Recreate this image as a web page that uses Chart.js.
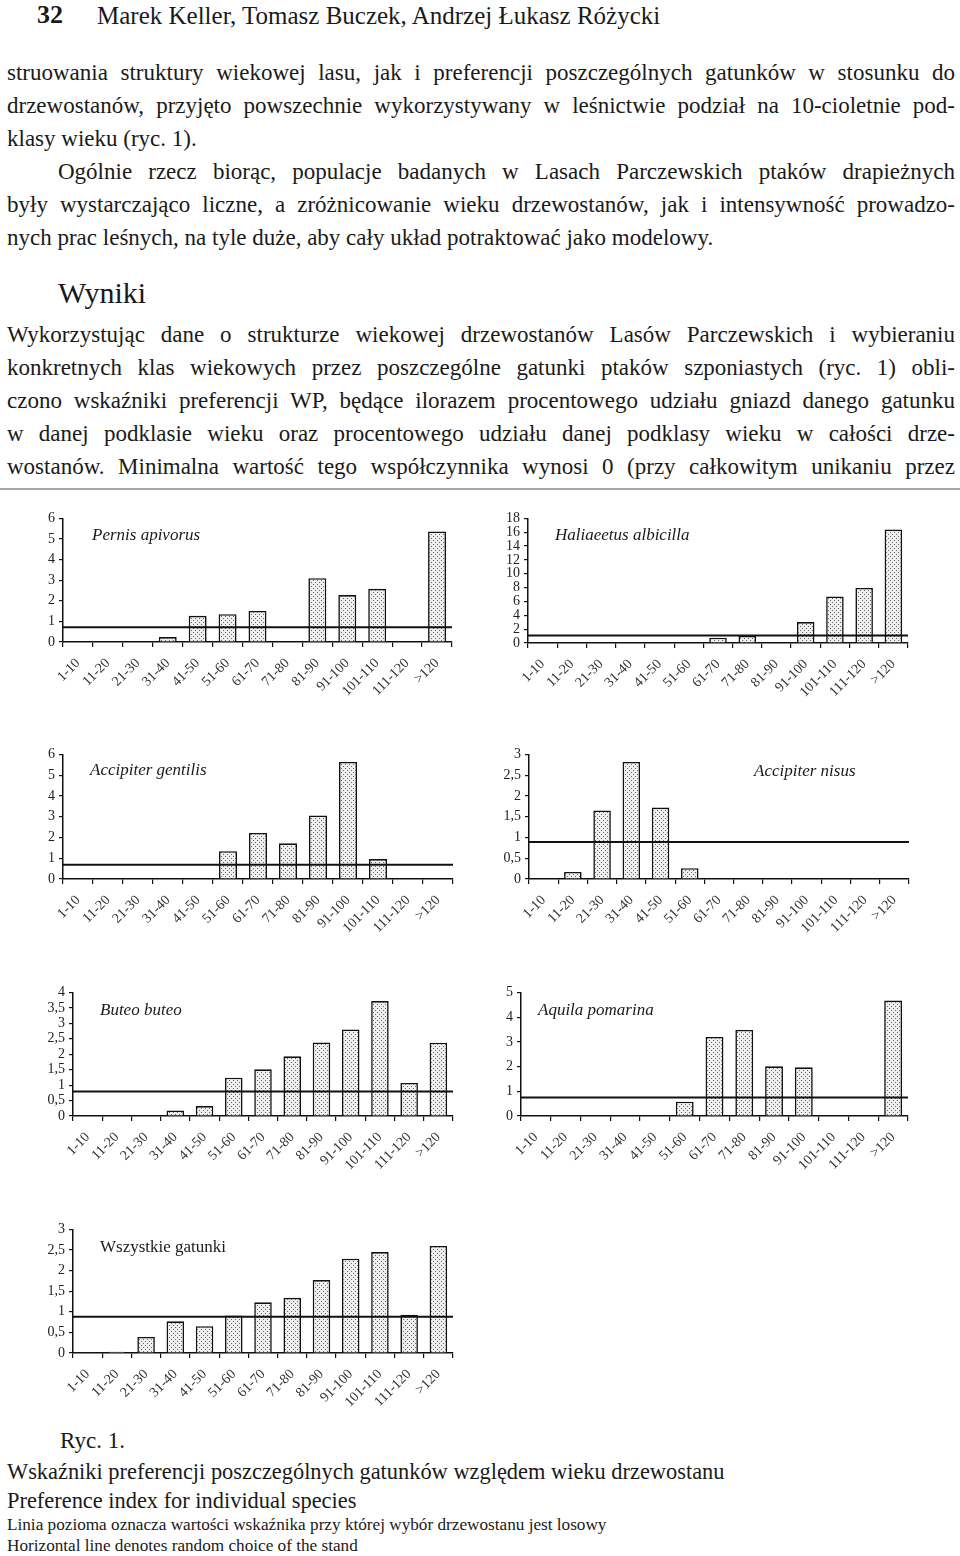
<!DOCTYPE html>
<html lang="pl">
<head>
<meta charset="utf-8">
<title>Ryc. 1</title>
<script src="https://cdn.jsdelivr.net/npm/chart.js@4.4.1/dist/chart.umd.min.js"></script>
<style>
  body { margin: 0; background: #fff; font-family: "Liberation Serif", "DejaVu Serif", serif; color: #1a1a1a; }
  #page { position: relative; width: 960px; height: 1556px; overflow: hidden; }
  .abs { position: absolute; }
  .para { left: 7px; width: 948px; font-size: 23px; line-height: 33px; }
  .j { text-align: justify; text-align-last: justify; }
  .ind { text-indent: 51px; }
  .box { position: absolute; }
  .sep { left: 0; width: 960px; top: 488px; height: 2px; background: #a8a8a8; }
</style>
</head>
<body>
<div id="page">
  <div class="abs" style="left:37px; top:1px; font-size:26px; font-weight:bold; line-height:28px;">32</div>
  <div class="abs" style="left:97px; top:2px; font-size:25px; line-height:28px;">Marek Keller, Tomasz Buczek, Andrzej Łukasz Różycki</div>

  <div class="abs para" style="top:56px;">
    <div class="j">struowania struktury wiekowej lasu, jak i preferencji poszczególnych gatunków w stosunku do</div>
    <div class="j">drzewostanów, przyjęto powszechnie wykorzystywany w leśnictwie podział na 10-cioletnie pod-</div>
    <div>klasy wieku (ryc. 1).</div>
    <div class="j ind">Ogólnie rzecz biorąc, populacje badanych w Lasach Parczewskich ptaków drapieżnych</div>
    <div class="j">były wystarczająco liczne, a zróżnicowanie wieku drzewostanów, jak i intensywność prowadzo-</div>
    <div>nych prac leśnych, na tyle duże, aby cały układ potraktować jako modelowy.</div>
  </div>

  <div class="abs" style="left:58px; top:275px; font-size:30px; line-height:36px;">Wyniki</div>

  <div class="abs para" style="top:318px;">
    <div class="j">Wykorzystując dane o strukturze wiekowej drzewostanów Lasów Parczewskich i wybieraniu</div>
    <div class="j">konkretnych klas wiekowych przez poszczególne gatunki ptaków szponiastych (ryc. 1) obli-</div>
    <div class="j">czono wskaźniki preferencji WP, będące ilorazem procentowego udziału gniazd danego gatunku</div>
    <div class="j">w danej podklasie wieku oraz procentowego udziału danej podklasy wieku w całości drze-</div>
    <div class="j">wostanów. Minimalna wartość tego współczynnika wynosi 0 (przy całkowitym unikaniu przez</div>
  </div>
  <div class="abs sep"></div>

  <div id="charts"></div>

  <div class="abs" style="left:60px; top:1427px; font-size:23px; line-height:28px;">Ryc. 1.</div>
  <div class="abs" style="left:7px; top:1457px; font-size:22.4px; line-height:29px;">
    <div>Wskaźniki preferencji poszczególnych gatunków względem wieku drzewostanu</div>
    <div>Preference index for individual species</div>
  </div>
  <div class="abs" style="left:7px; top:1515px; font-size:17.2px; line-height:20.5px;">
    <div>Linia pozioma oznacza wartości wskaźnika przy której wybór drzewostanu jest losowy</div>
    <div>Horizontal line denotes random choice of the stand</div>
  </div>
</div>

<script>
// Klasy wieku drzewostanu
const ageClasses = ['1-10', '11-20', '21-30', '31-40', '41-50', '51-60', '61-70', '71-80', '81-90', '91-100', '101-110', '111-120', '>120'];

const pernisApivorus      = [0, 0, 0, 0.24, 1.27, 1.35, 1.51, 0, 3.1, 2.28, 2.58, 0, 5.37];
const haliaeetusAlbicilla = [0, 0, 0, 0, 0, 0, 0.76, 1.04, 0, 3.03, 6.73, 7.96, 16.4];
const accipiterGentilis   = [0, 0, 0, 0, 0, 1.34, 2.22, 1.72, 3.06, 5.64, 0.96, 0, 0];
const accipiterNisus      = [0, 0.17, 1.65, 2.82, 1.72, 0.26, 0, 0, 0, 0, 0, 0, 0];
const buteoButeo          = [0, 0, 0, 0.18, 0.32, 1.24, 1.51, 1.93, 2.38, 2.8, 3.72, 1.07, 2.37];
const aquilaPomarina      = [0, 0, 0, 0, 0, 0.58, 3.2, 3.48, 2.01, 1.97, 0, 0, 4.67];
const allSpecies          = [0, 0.03, 0.39, 0.77, 0.65, 0.91, 1.23, 1.34, 1.77, 2.29, 2.45, 0.93, 2.6];

const speciesNames = ['Pernis apivorus', 'Haliaeetus albicilla', 'Accipiter gentilis', 'Accipiter nisus', 'Buteo buteo', 'Aquila pomarina', 'Wszystkie gatunki'];
const speciesValues = [pernisApivorus, haliaeetusAlbicilla, accipiterGentilis, accipiterNisus, buteoButeo, aquilaPomarina, allSpecies];
// Linia pozioma = wybór losowy
const randomChoice = [0.72, 1.09, 0.69, 0.89, 0.79, 0.75, 0.88];
// Osie Y
const yMax  = [6, 18, 6, 3, 4, 5, 3];
const yStep = [1, 2, 1, 0.5, 0.5, 1, 0.5];

// Układ na stronie: obszar wykresu (left, right, top, bottom) i pozycja nazwy gatunku
const areas = [
  { l: 63,  r: 452, t: 516,  b: 642,  dx: 29,  dy: 17, italic: true },
  { l: 528, r: 908, t: 516,  b: 643,  dx: 27,  dy: 17, italic: true },
  { l: 63,  r: 453, t: 752,  b: 879,  dx: 27,  dy: 16, italic: true },
  { l: 529, r: 909, t: 752,  b: 879,  dx: 225, dy: 17, italic: true },
  { l: 73,  r: 453, t: 990,  b: 1116, dx: 27,  dy: 18, italic: true },
  { l: 521, r: 908, t: 990,  b: 1116, dx: 17,  dy: 18, italic: true },
  { l: 73,  r: 453, t: 1227, b: 1353, dx: 27,  dy: 18, italic: false }
];
const Y_W = 44, X_H = 66, PAD_TOP = 10, PAD_RIGHT = 6;
const FONT = '"Liberation Serif", "DejaVu Serif", serif';

// Wzór kropkowany słupków
function stipple() {
  const c = document.createElement('canvas');
  c.width = 4; c.height = 4;
  const g = c.getContext('2d');
  g.fillStyle = '#eeeeee'; g.fillRect(0, 0, 4, 4);
  g.fillStyle = '#666666';
  g.fillRect(0, 0, 1, 1);
  g.fillRect(2, 2, 1, 1);
  return g.createPattern(c, 'repeat');
}

// Linia wyboru losowego + nazwa gatunku
const speciesPlugin = {
  id: 'speciesPlugin',
  afterDatasetsDraw(chart, args, opts) {
    const { ctx, chartArea, scales } = chart;
    const y = scales.y.getPixelForValue(opts.level);
    ctx.save();
    ctx.strokeStyle = '#111';
    ctx.lineWidth = 2;
    ctx.beginPath();
    ctx.moveTo(chartArea.left, y);
    ctx.lineTo(chartArea.right, y);
    ctx.stroke();
    ctx.font = (opts.italic ? 'italic ' : '') + '17px ' + FONT;
    ctx.fillStyle = '#1a1a1a';
    ctx.textBaseline = 'middle';
    ctx.fillText(opts.name, chartArea.left + opts.dx, chartArea.top + opts.dy);
    ctx.restore();
  }
};

const holder = document.getElementById('charts');
speciesNames.forEach((name, i) => {
  const a = areas[i];
  const box = document.createElement('div');
  box.className = 'box';
  const left = a.l - Y_W, top = a.t - PAD_TOP;
  box.style.left = left + 'px';
  box.style.top = top + 'px';
  box.style.width = (a.r - left + PAD_RIGHT) + 'px';
  box.style.height = (a.b - top + X_H) + 'px';
  const cv = document.createElement('canvas');
  box.appendChild(cv);
  holder.appendChild(box);

  new Chart(cv.getContext('2d'), {
    type: 'bar',
    data: {
      labels: ageClasses,
      datasets: [{
        data: speciesValues[i],
        backgroundColor: stipple(),
        borderColor: '#111',
        borderWidth: 1.6,
        barPercentage: 0.6,
        categoryPercentage: 1
      }]
    },
    plugins: [speciesPlugin],
    options: {
      responsive: true,
      maintainAspectRatio: false,
      animation: false,
      layout: { padding: { top: PAD_TOP, right: PAD_RIGHT, left: 0, bottom: 0 } },
      plugins: {
        legend: { display: false },
        tooltip: { enabled: false },
        speciesPlugin: { name: name, level: randomChoice[i], dx: a.dx, dy: a.dy, italic: a.italic }
      },
      scales: {
        x: {
          grid: { offset: true, drawOnChartArea: false, tickLength: 5, color: '#111', lineWidth: 1.2 },
          border: { color: '#111', width: 1.5 },
          ticks: { minRotation: 45, maxRotation: 45, autoSkip: false, padding: 8, color: '#333', font: { family: FONT, size: 14 } },
          afterFit(s) { s.height = X_H; }
        },
        y: {
          min: 0,
          max: yMax[i],
          grid: { drawOnChartArea: false, tickLength: 4, color: '#111', lineWidth: 1.2 },
          border: { color: '#111', width: 1.5 },
          ticks: {
            stepSize: yStep[i],
            autoSkip: false,
            padding: 4,
            color: '#222',
            font: { family: FONT, size: 14 },
            callback: v => String(v).replace('.', ',')
          },
          afterFit(s) { s.width = Y_W; }
        }
      }
    }
  });
});
</script>
</body>
</html>
